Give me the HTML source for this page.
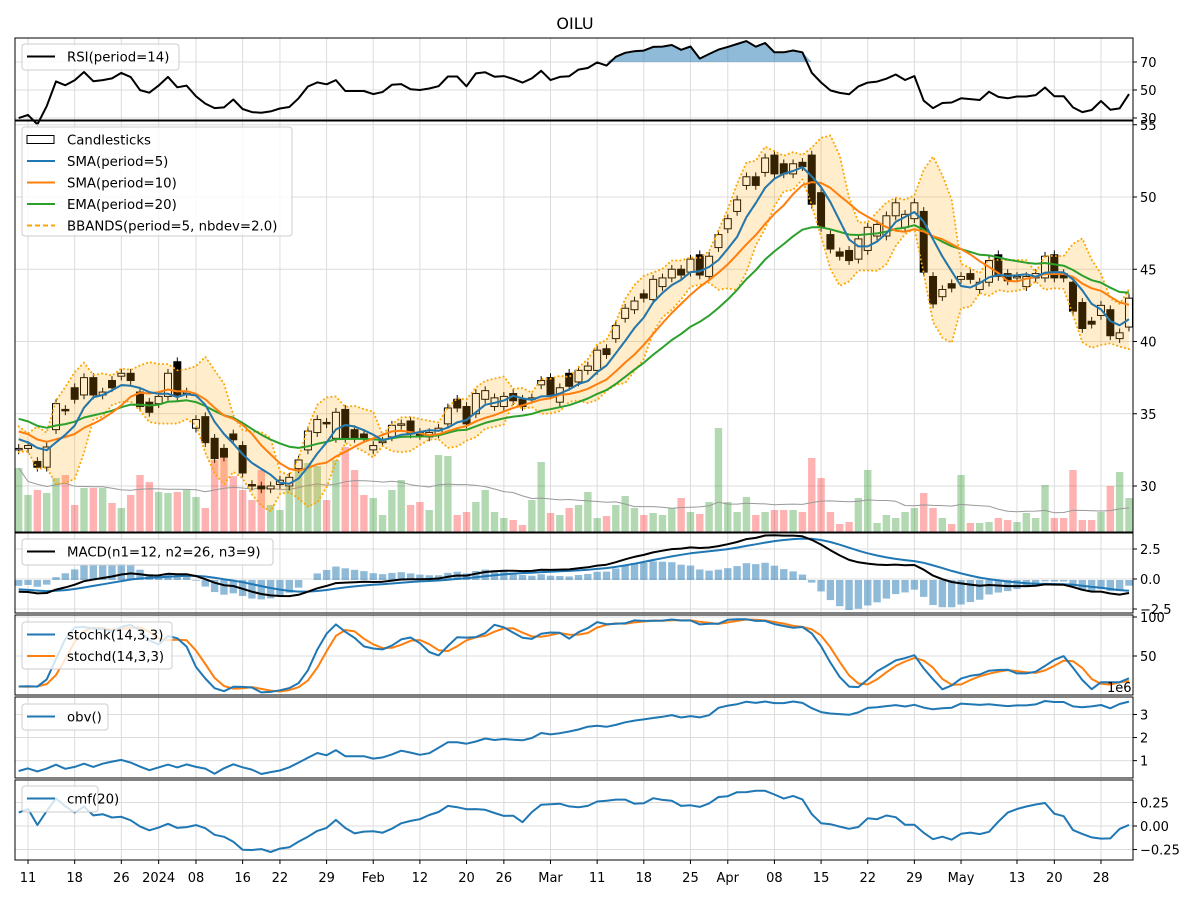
<!DOCTYPE html>
<html><head><meta charset="utf-8"><style>
html,body{margin:0;padding:0;background:#fff;}
svg{display:block;font-family:"DejaVu Sans","Liberation Sans",sans-serif;}
</style></head><body>
<svg id="chart" width="1200" height="900" viewBox="0 0 1200 900" xmlns="http://www.w3.org/2000/svg">
<rect width="1200" height="900" fill="#fff"/>
<text x="575" y="29" font-size="16" text-anchor="middle">OILU</text>
</svg>
<script>
const priorCloses = [37.0,37.5,38.0,38.2,37.8,38.5,38.9,38.4,38.0,37.6,37.9,37.2,36.8,36.5,36.9,36.0,35.6,35.8,35.1,34.8,35.2,34.6,35.0,34.3,34.0,33.6,33.9,33.2,33.5,33.0];
const opens = [32.5,32.6,31.7,31.3,33.9,35.3,36.8,36.3,37.5,36.3,37.3,37.6,37.8,36.5,35.8,35.7,36.2,38.6,36.4,34.0,
34.8,33.3,32.6,33.6,32.8,30.1,30.0,29.8,30.1,30.0,31.2,32.5,33.7,34.4,33.3,35.3,33.9,33.6,32.5,33.0,
33.4,34.2,34.5,33.7,33.4,33.6,34.3,36.0,35.5,35.0,36.0,35.5,35.5,36.4,36.0,36.0,37.0,37.5,35.8,37.8,
37.2,38.0,38.0,39.5,40.2,41.6,42.2,43.3,42.9,43.8,44.4,45.0,44.8,46.0,44.5,46.5,47.8,49.0,50.8,51.4,
51.7,52.9,52.3,51.6,52.4,52.9,50.3,47.4,46.2,46.3,45.7,46.3,47.3,47.3,48.7,47.9,48.5,49.0,44.5,43.1,
44.0,44.3,44.7,43.6,44.1,46.0,44.7,44.4,43.8,44.4,44.4,46.0,44.7,44.1,42.7,41.4,41.8,42.2,40.2,41.0];
const closes = [32.6,32.8,31.3,32.7,35.7,35.2,36.0,37.5,36.3,36.5,36.8,37.8,37.3,35.5,35.1,36.2,37.8,36.2,36.5,34.6,
33.0,31.9,32.0,33.2,30.9,30.0,29.8,30.0,30.4,30.6,31.8,33.8,34.6,34.3,35.1,33.3,33.3,33.3,32.8,33.1,
34.2,34.3,33.6,33.5,33.7,34.0,35.4,35.4,34.3,36.4,36.6,36.1,36.2,35.9,35.5,36.1,37.3,36.3,36.8,36.9,
38.0,38.3,39.4,39.1,41.1,42.3,42.8,43.0,44.3,44.4,45.0,44.6,45.7,44.6,45.9,47.4,48.5,49.8,51.4,50.8,
52.7,51.6,51.6,52.3,52.1,49.5,47.9,46.4,45.9,45.6,47.1,47.9,48.1,48.7,49.6,48.8,49.6,44.8,42.6,43.6,
43.7,44.5,44.3,44.1,45.6,44.5,44.2,44.5,44.5,44.7,45.9,44.4,44.4,42.1,40.9,41.2,42.5,40.4,40.6,43.0];
const volumes = [64,37,42,39,54,57,27,44,44,44,29,24,37,57,50,40,39,40,42,35,
24,72,77,56,42,32,62,27,22,45,65,69,66,32,72,85,62,37,34,17,
42,52,27,30,22,77,76,17,20,30,42,20,14,12,7,32,70,19,17,24,
27,40,14,16,27,36,24,17,19,17,24,34,20,18,30,104,30,20,35,17,
20,22,22,22,20,74,54,20,8,10,34,62,9,17,14,20,24,39,24,14,
8,57,9,9,10,14,12,10,19,14,47,14,14,62,12,12,20,46,60,34].map(v=>v*3100);
const obvStart = 550000;
const tickIdx = [1,6,11,15,19,24,28,33,38,43,48,52,57,62,67,72,76,81,86,91,96,101,107,111,116];
const tickLabels = ["11","18","26","2024","08","16","22","29","Feb","12","20","26","Mar","11","18","25","Apr","08","15","22","29","May","13","20","28"];

const NS="http://www.w3.org/2000/svg";
const svg=document.getElementById('chart');
function el(tag,attrs,parent){const e=document.createElementNS(NS,tag);for(const k in attrs)e.setAttribute(k,attrs[k]);(parent||svg).appendChild(e);return e;}
const L=15,R=1133,X0=18.7,DX=9.33;
const xi=i=>X0+DX*i;
const n=closes.length,P=priorCloses.length;
const fc=priorCloses.concat(closes);
const fo=priorCloses.map((c,i)=>i?priorCloses[i-1]:c).concat(opens);
const fh=fc.map((c,i)=>Math.max(c,fo[i])+0.3);
const fl=fc.map((c,i)=>Math.min(c,fo[i])-0.3);
function sma(a,p){return a.map((_,j)=>{let s=0,k=0;for(let t=Math.max(0,j-p+1);t<=j;t++){s+=a[t];k++;}return s/k;});}
function ema(a,p){const al=2/(p+1);let r=[];a.forEach((v,j)=>r.push(j?al*v+(1-al)*r[j-1]:v));return r;}
function std(a,p){return a.map((_,j)=>{const s=a.slice(Math.max(0,j-p+1),j+1);const m=s.reduce((x,y)=>x+y,0)/s.length;return Math.sqrt(s.reduce((x,y)=>x+(y-m)*(y-m),0)/s.length);});}
const cut=a=>a.slice(P);
const sma5=cut(sma(fc,5)),sma10=cut(sma(fc,10)),ema20=cut(ema(fc,20)),sd5=cut(std(fc,5));
const bbU=sma5.map((m,i)=>m+2*sd5[i]),bbL=sma5.map((m,i)=>m-2*sd5[i]);
const e12=ema(fc,12),e26=ema(fc,26);const macdF=e12.map((v,i)=>v-e26[i]);const sigF=ema(macdF,9);
const macd=cut(macdF),sig=cut(sigF),hist=macd.map((v,i)=>v-sig[i]);
let rsiF=[],ag=0,al=0;
for(let j=0;j<fc.length;j++){if(j===0){rsiF.push(50);continue;}const d=fc[j]-fc[j-1];const g=Math.max(d,0),l=Math.max(-d,0);if(j<=14){ag+=g/14;al+=l/14;}else{ag=(ag*13+g)/14;al=(al*13+l)/14;}rsiF.push(al===0?100:100-100/(1+ag/al));}
const rsi=cut(rsiF);
const fk=fc.map((c,j)=>{let hh=-1e9,ll=1e9;for(let t=Math.max(0,j-13);t<=j;t++){hh=Math.max(hh,fh[t]);ll=Math.min(ll,fl[t]);}return hh>ll?100*(c-ll)/(hh-ll):50;});
const skF=sma(fk,3),sdF=sma(skF,3);const stK=cut(skF),stD=cut(sdF);
const obv=[];closes.forEach((c,i)=>obv.push(i?obv[i-1]+(c>closes[i-1]?volumes[i]:c<closes[i-1]?-volumes[i]:0):obvStart));
const hi=cut(fh),lo=cut(fl);
const mfv=closes.map((c,i)=>((c-lo[i])-(hi[i]-c))/(hi[i]-lo[i])*volumes[i]);
const cmf=closes.map((_,i)=>{let a=0,b=0;for(let t=Math.max(0,i-19);t<=i;t++){a+=mfv[t];b+=volumes[t];}return a/b;});
const volMA=sma(volumes,20);

function frame(top,bot,name){
  const g=el('g',{},svg);
  tickIdx.forEach(i=>{const l=el('line',{x1:xi(i),x2:xi(i),y1:top,y2:bot,stroke:'#dcdcdc','stroke-width':1},g);});
  return g;
}
function border(top,bot,name){const r=el('rect',{x:L,y:top,width:R-L,height:bot-top,fill:'none',stroke:'#000','stroke-width':1});}
function yTicks(g,vals,labels,fy,top,bot){vals.forEach((v,k)=>{const y=fy(v);if(y<top-1||y>bot+1)return;
  const gl=el('line',{x1:L,x2:R,y1:y,y2:y,stroke:'#dcdcdc','stroke-width':1},g);
  const t=el('line',{x1:R,x2:R+4,y1:y,y2:y,stroke:'#000'},g);
  const tx=el('text',{x:R+7,y:y+5,'font-size':13},g);tx.textContent=labels[k];});}
function line(g,arr,fy,color,w,extra,name){const p=el('polyline',Object.assign({points:arr.map((v,i)=>xi(i).toFixed(1)+','+fy(v).toFixed(1)).join(' '),fill:'none',stroke:color,'stroke-width':w,'stroke-linejoin':'round'},extra||{}),g);return p;}
function legend(x,y,w,h,items){const g=el('g',{});
  el('rect',{x:x,y:y,width:w,height:h,rx:3,fill:'#fff','fill-opacity':0.8,stroke:'#cccccc'},g);
  items.forEach((it,k)=>{const cy=y+12.5+k*21.5;
    let s;if(it.box){s=el('rect',{x:x+5,y:cy-4,width:27,height:8,fill:'#fff',stroke:'#000'},g);}else{s=el('line',Object.assign({x1:x+5,x2:x+33,y1:cy,y2:cy,stroke:it.c,'stroke-width':2},it.extra||{}),g);}
    
    const t=el('text',{x:x+45,y:cy+5,'font-size':13.3},g);t.textContent=it.t;});}

// RSI
const rT=38,rB=120,ry=v=>118-(v-30)*1.4;
let g=frame(rT,rB,'rsi-panel');
yTicks(g,[30,50,70],['30','50','70'],ry,rT,rB);
{let d='';rsi.forEach((v,i)=>{d+=(i?'L':'M')+xi(i).toFixed(1)+','+ry(Math.max(v,70)).toFixed(1);});for(let i=n-1;i>=0;i--)d+='L'+xi(i).toFixed(1)+','+ry(70).toFixed(1);
 const f=el('path',{d:d+'Z',fill:'#1f77b4','fill-opacity':0.5,stroke:'none'},g);}
line(g,rsi,ry,'#000',2,null,'rsi-line');
border(rT,rB,'rsi-axes');
legend(22,44,157,26,[{c:'#000',t:'RSI(period=14)'}]);

// Main
const mT=121,mB=532,py=v=>486-(v-30)*14.45;
g=frame(mT,mB,'price-panel');
yTicks(g,[30,35,40,45,50,55],['30','35','40','45','50','55'],py,mT,mB);
const vmax=Math.max(...volumes);
const vg=el('g',{});
volumes.forEach((v,i)=>{const h=v/vmax*104;const b=el('rect',{x:xi(i)-3.7,y:mB-h,width:7.4,height:h,fill:closes[i]>=opens[i]?'#008000':'#ff0000','fill-opacity':0.3},vg);});
line(vg,volMA,v=>mB-v/vmax*104,'#999',1,null,'volume-ma-line');
const cg=el('g',{});
closes.forEach((c,i)=>{const o=opens[i],up=c>=o;const x=xi(i);
  const w=el('line',{x1:x,x2:x,y1:py(hi[i]),y2:py(lo[i]),stroke:'#000','stroke-width':1},cg);
  const top=py(Math.max(o,c)),bh=Math.max(1,Math.abs(py(o)-py(c)));
  const b=el('rect',{x:x-3.5,y:top,width:7,height:bh,fill:up?'#fff':'#000',stroke:'#000','stroke-width':1},cg);});
{let d='';bbU.forEach((v,i)=>{d+=(i?'L':'M')+xi(i).toFixed(1)+','+py(v).toFixed(1);});for(let i=n-1;i>=0;i--)d+='L'+xi(i).toFixed(1)+','+py(bbL[i]).toFixed(1);
 const f=el('path',{d:d+'Z',fill:'#ffa500','fill-opacity':0.2,stroke:'none'});}
line(svg,bbU,py,'#ffa500',2,{'stroke-dasharray':'0.1,4','stroke-linecap':'round'},'bbands-upper');
line(svg,bbL,py,'#ffa500',2,{'stroke-dasharray':'0.1,4','stroke-linecap':'round'},'bbands-lower');
line(svg,sma5,py,'#ffa500',2,{'stroke-dasharray':'7,3'},'bbands-middle');
line(svg,ema20,py,'#2ca02c',2,null,'ema20-line');
line(svg,sma10,py,'#ff7f0e',2,null,'sma10-line');
line(svg,sma5,py,'#1f77b4',2,null,'sma5-line');
border(mT,mB,'price-axes');
legend(22,127,270,109,[{box:1,t:'Candlesticks'},{c:'#1f77b4',t:'SMA(period=5)'},{c:'#ff7f0e',t:'SMA(period=10)'},{c:'#2ca02c',t:'EMA(period=20)'},{c:'#ffa500',t:'BBANDS(period=5, nbdev=2.0)',extra:{'stroke-dasharray':'5,3'}}]);

// MACD
const cT=533,cB=613,cy=v=>579-v*12;
g=frame(cT,cB,'macd-panel');
yTicks(g,[-2.5,0,2.5],['−2.5','0.0','2.5'],cy,cT,cB);
const hmax=Math.max(...hist.map(Math.abs));
hist.forEach((h,i)=>{const hp=h/hmax*30;const b=el('rect',{x:xi(i)-3.7,y:hp>0?580-hp:580,width:7.4,height:Math.abs(hp),fill:'#1f77b4','fill-opacity':0.5},g);});
line(g,sig,cy,'#1f77b4',2,null,'macd-signal-line');
line(g,macd,cy,'#000',2,null,'macd-line');
border(cT,cB,'macd-axes');
legend(22,539,251,26,[{c:'#000',t:'MACD(n1=12, n2=26, n3=9)'}]);

// Stoch
const sT=615,sB=695,sy=v=>695-v*0.78;
g=frame(sT,sB,'stoch-panel');
yTicks(g,[50,100],['50','100'],sy,sT,sB);
line(g,stD,sy,'#ff7f0e',2,null,'stochd-line');
line(g,stK,sy,'#1f77b4',2,null,'stochk-line');
border(sT,sB,'stoch-axes');
legend(22,622,150,47,[{c:'#1f77b4',t:'stochk(14,3,3)'},{c:'#ff7f0e',t:'stochd(14,3,3)'}]);

// OBV
const oT=697,oB=778;
const omin=Math.min(...obv),omax=Math.max(...obv);
const oy=v=>774-(v-omin)/((omax-omin)||1)*73;
g=frame(oT,oB,'obv-panel');
{const span=omax-omin;const cand=[1e5,2e5,5e5,1e6,2e6,5e6];let st=cand.find(s=>span/s<=4)||1e7;const ts=[],tl=[];
 for(let v=Math.ceil(omin/st)*st;v<=omax;v+=st){ts.push(v);tl.push(String(+(v/1e6).toFixed(1)));}
 yTicks(g,ts,tl,oy,oT,oB);}
line(g,obv,oy,'#1f77b4',2,null,'obv-line');
border(oT,oB,'obv-axes');
{const t=el('text',{x:1107,y:692,'font-size':13});t.textContent='1e6';}
legend(22,704,86,26,[{c:'#1f77b4',t:'obv()'}]);

// CMF
const fT=780,fB=860,fy=v=>826-v*94;
g=frame(fT,fB,'cmf-panel');
yTicks(g,[-0.25,0,0.25],['−0.25','0.00','0.25'],fy,fT,fB);
line(g,cmf,fy,'#1f77b4',2,null,'cmf-line');
border(fT,fB,'cmf-axes');
legend(22,786,76,26,[{c:'#1f77b4',t:'cmf(20)'}]);

tickIdx.forEach((i,k)=>{const x=xi(i);
  const t=el('line',{x1:x,x2:x,y1:fB,y2:fB+4,stroke:'#000'});
  const tx=el('text',{x:x,y:fB+22,'font-size':13,'text-anchor':'middle'});tx.textContent=tickLabels[k];});
</script>
</body></html>
